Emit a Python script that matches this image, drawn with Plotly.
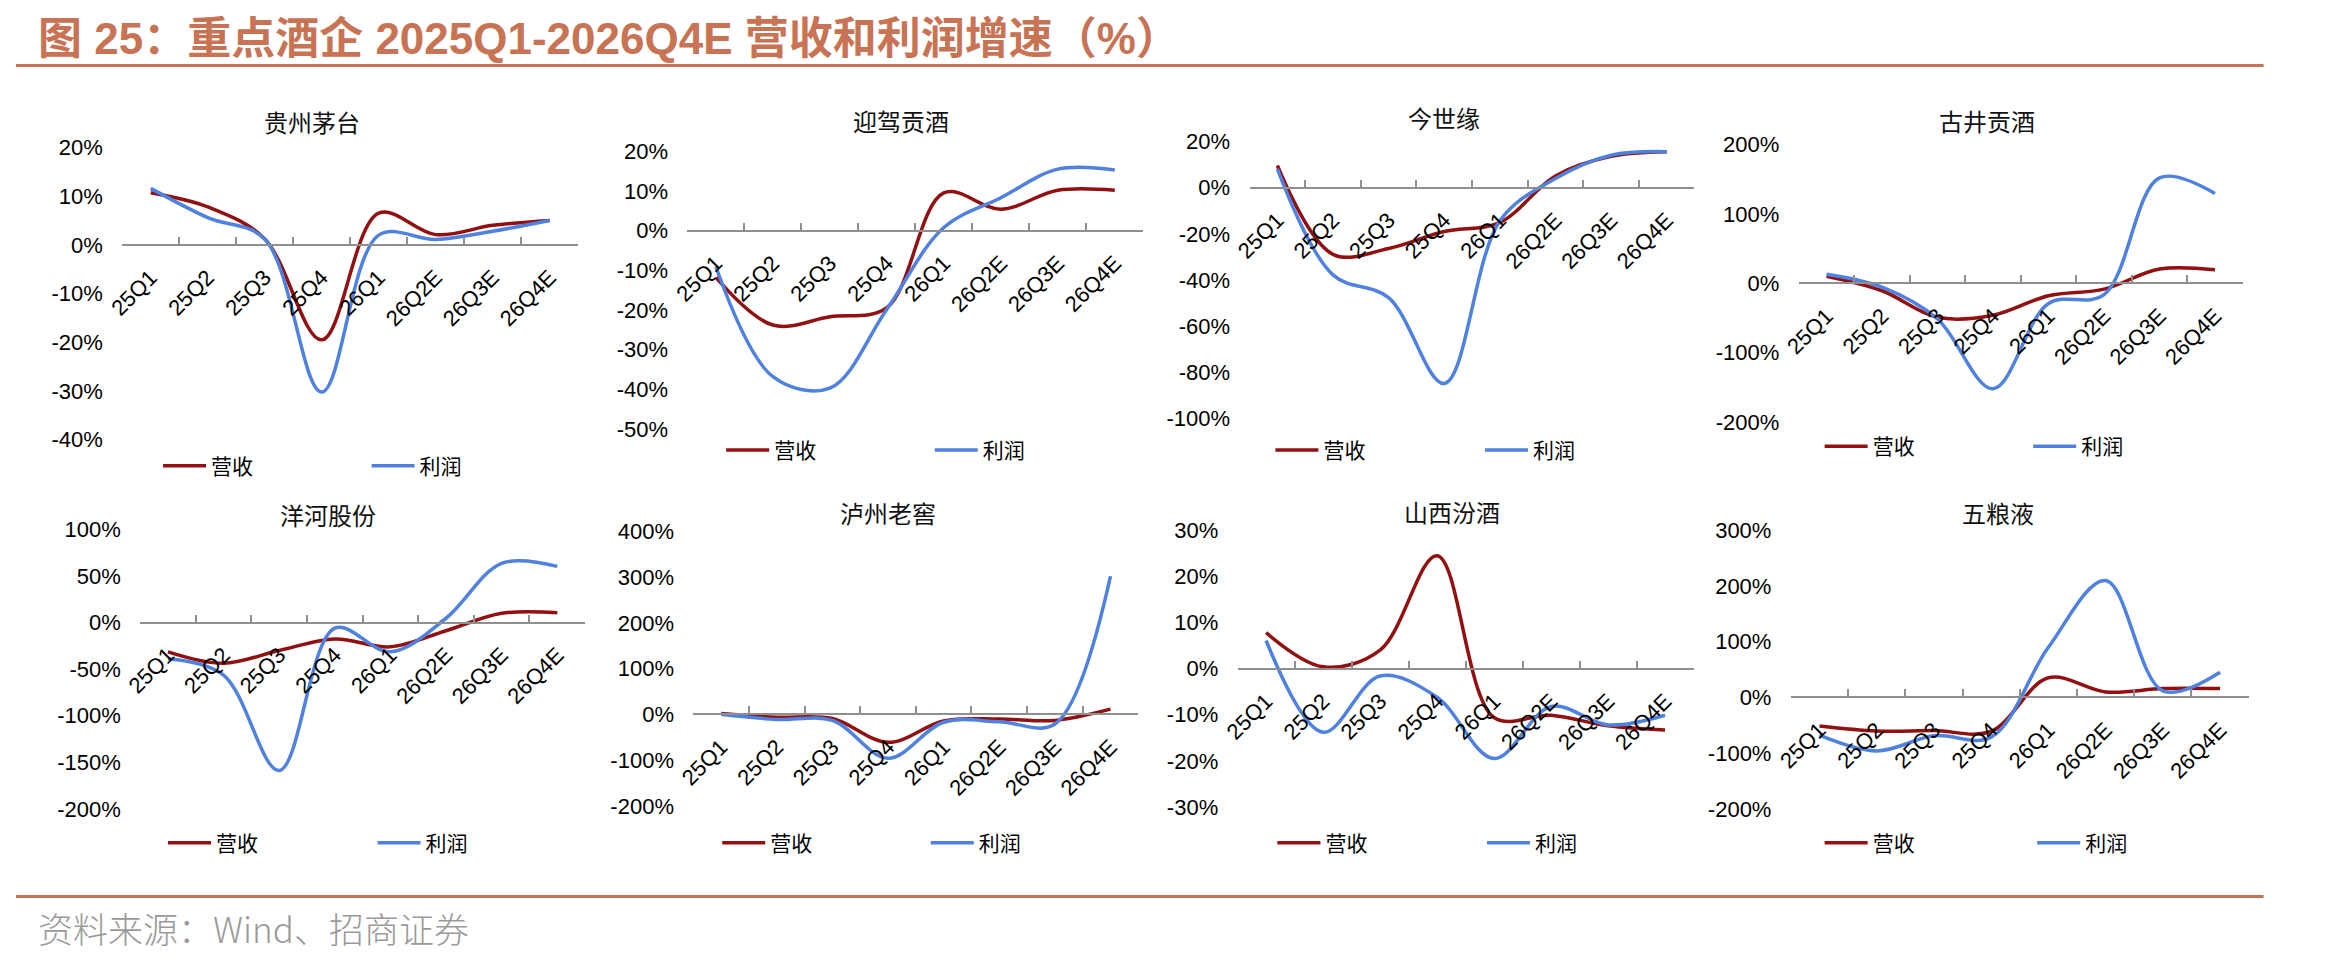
import plotly.graph_objects as go

# ---------------- data ----------------
categories = ["25Q1", "25Q2", "25Q3", "25Q4", "26Q1", "26Q2E", "26Q3E", "26Q4E"]
companies = ["贵州茅台", "迎驾贡酒", "今世缘", "古井贡酒", "洋河股份", "泸州老窖", "山西汾酒", "五粮液"]
series_names = ["营收", "利润"]

moutai_revenue = [10.7, 7.8, 1.2, -19.5, 6.5, 2.1, 4.0, 5.0]
moutai_profit = [11.6, 5.6, 1.2, -30.2, 2.0, 1.1, 2.8, 5.0]
yingjia_revenue = [-11.8, -23.8, -21.7, -19.4, 9.5, 5.4, 10.2, 10.2]
yingjia_profit = [-9.1, -36.8, -39.7, -19.8, 0.8, 8.3, 15.5, 15.3]
jinshiyuan_revenue = [9.6, -28.9, -26.4, -19.0, -15.1, 5.1, 13.6, 15.6]
jinshiyuan_profit = [8.2, -37.8, -47.7, -84.9, -14.4, 4.0, 14.1, 15.6]
gujing_revenue = [10.3, -10.7, -49.0, -46.0, -17.8, -8.4, 20.6, 19.6]
gujing_profit = [13.1, -5.6, -51.4, -151.9, -29.0, -16.4, 151.9, 129.4]
yanghe_revenue = [-31.4, -43.7, -30.0, -17.6, -26.1, -8.8, 9.9, 10.6]
yanghe_profit = [-38.8, -56.4, -158.7, -6.0, -31.4, 4.6, 63.5, 60.3]
luzhou_revenue = [1.8, -6.0, -9.0, -61.0, -14.4, -10.0, -13.0, 11.5]
luzhou_profit = [0.4, -11.0, -13.0, -95.7, -17.0, -15.8, -20.9, 302.0]
fenjiu_revenue = [7.8, 0.4, 4.0, 24.5, -10.6, -10.1, -12.4, -13.3]
fenjiu_profit = [6.1, -13.8, -1.6, -6.2, -19.5, -8.2, -12.2, -10.1]
wuliangye_revenue = [-51.0, -60.0, -59.4, -60.6, 35.3, 10.0, 15.9, 15.9]
wuliangye_profit = [-67.6, -95.9, -68.8, -71.2, 90.0, 210.0, 11.8, 45.3]

moutai_yticks = [-40, -30, -20, -10, 0, 10, 20]
yingjia_yticks = [-50, -40, -30, -20, -10, 0, 10, 20]
jinshiyuan_yticks = [-100, -80, -60, -40, -20, 0, 20]
gujing_yticks = [-200, -100, 0, 100, 200]
yanghe_yticks = [-200, -150, -100, -50, 0, 50, 100]
luzhou_yticks = [-200, -100, 0, 100, 200, 300, 400]
fenjiu_yticks = [-30, -20, -10, 0, 10, 20, 30]
wuliangye_yticks = [-200, -100, 0, 100, 200, 300]

title_text = "图 25：重点酒企 2025Q1-2026Q4E 营收和利润增速（%）"
source_text = "资料来源：Wind、招商证券"

# ---------------- style / layout ----------------
W, H = 2350, 971
RED = "#921010"
BLUE = "#4F82E0"
AX = "#8f8f8f"
ACCENT = "#C87354"
FONT = "Liberation Sans, Arial, Noto Sans CJK SC, sans-serif"
CJK = "Noto Sans CJK SC, sans-serif"

revenues = [moutai_revenue, yingjia_revenue, jinshiyuan_revenue, gujing_revenue,
            yanghe_revenue, luzhou_revenue, fenjiu_revenue, wuliangye_revenue]
profits = [moutai_profit, yingjia_profit, jinshiyuan_profit, gujing_profit,
           yanghe_profit, luzhou_profit, fenjiu_profit, wuliangye_profit]
yticks = [moutai_yticks, yingjia_yticks, jinshiyuan_yticks, gujing_yticks,
          yanghe_yticks, luzhou_yticks, fenjiu_yticks, wuliangye_yticks]

# plot boxes in pixels: x0, x1, ytop, ybottom
boxes = [(107, 566, 139, 439), (676, 1135, 143, 428), (1242, 1690, 133, 417), (1795, 2242, 136, 421),
         (125, 573, 531, 818), (682, 1130, 533, 815), (1230, 1689, 532, 816), (1787, 2248, 532, 818)]
title_pos = [(298, 112), (891, 111), (1438, 108), (1985, 111),
             (314, 516), (878, 514), (1446, 513), (1996, 514)]
legend_pos = [(147, 357, 466), (714, 924, 450), (1267, 1478, 450), (1820, 2030, 446),
              (152, 363, 853), (710, 920, 853), (1269, 1480, 853), (1820, 2034, 853)]

fig = go.Figure()
layout = dict(width=W, height=H, margin=dict(l=0, r=0, t=0, b=0), autosize=False,
              paper_bgcolor="white", plot_bgcolor="white", font=dict(family=FONT, color="#000"))
annotations = []
legend_idx = 0

for i in range(8):
    n = i + 1
    xa = "x" if n == 1 else f"x{n}"
    ya = "y" if n == 1 else f"y{n}"
    x0, x1, yt, yb = boxes[i]
    dom_x = [x0 / W, x1 / W]
    dom_y = [1 - yb / H, 1 - yt / H]
    tv = yticks[i]
    ymin, ymax = tv[0], tv[-1]
    pos = dom_y[0] + (0 - ymin) / (ymax - ymin) * (dom_y[1] - dom_y[0])

    for s, (vals, col) in enumerate([(revenues[i], RED), (profits[i], BLUE)]):
        legend_idx += 1
        lname = "legend" if legend_idx == 1 else f"legend{legend_idx}"
        fig.add_trace(go.Scatter(
            x=categories, y=vals, mode="lines", name=series_names[s],
            line=dict(color=col, width=3.5, shape="spline", smoothing=1.0),
            xaxis=xa, yaxis=ya, legend=lname, showlegend=True, hoverinfo="skip"))
        lx = legend_pos[i][s]
        ly = legend_pos[i][2]
        layout[lname] = dict(x=(lx - 4) / W, y=1 - ly / H, xanchor="left", yanchor="middle",
                             orientation="h", bgcolor="rgba(0,0,0,0)", borderwidth=0,
                             itemwidth=43, font=dict(family=CJK, size=21, color="#000"))

    layout["xaxis" if n == 1 else f"xaxis{n}"] = dict(
        domain=dom_x, anchor="free", position=pos, type="category",
        categoryorder="array", categoryarray=categories, range=[-0.5, 7.5],
        tickson="boundaries", ticks="inside", ticklen=7, tickwidth=2, tickcolor=AX,
        showline=True, linecolor=AX, linewidth=2, showgrid=False, zeroline=False,
        tickangle=-45, ticklabelstandoff=10,
        tickfont=dict(family=FONT, size=22, color="#000"))
    layout["yaxis" if n == 1 else f"yaxis{n}"] = dict(
        domain=dom_y, anchor=xa, range=[ymin, ymax], tickvals=tv,
        ticktext=[f"{v}%" for v in tv], showgrid=False, zeroline=False, showline=False,
        ticks="outside", ticklen=14, tickcolor="rgba(0,0,0,0)",
        tickfont=dict(family=FONT, size=22, color="#000"))

    tx, ty = title_pos[i]
    annotations.append(dict(x=tx / W, y=1 - ty / H, xref="paper", yref="paper", showarrow=False,
                            text=companies[i], xanchor="center", yanchor="middle",
                            font=dict(family=CJK, size=24, color="#111")))

annotations.append(dict(x=20 / W, y=1 - 27 / H, xref="paper", yref="paper", showarrow=False,
                        text=f"<b>{title_text}</b>", xanchor="left", yanchor="middle",
                        font=dict(family="Liberation Sans, Arial, Noto Sans CJK SC", size=44, color=ACCENT)))
annotations.append(dict(x=20 / W, y=1 - 940 / H, xref="paper", yref="paper", showarrow=False,
                        text=source_text, xanchor="left", yanchor="middle",
                        font=dict(family=CJK, size=35, color="#9a9a9a", weight=300)))
layout["annotations"] = annotations
layout["shapes"] = [
    dict(type="line", xref="paper", yref="paper", x0=0, x1=2263 / W, y0=1 - 55 / H, y1=1 - 55 / H,
         line=dict(color=ACCENT, width=3)),
    dict(type="line", xref="paper", yref="paper", x0=0, x1=2263 / W, y0=1 - 908 / H, y1=1 - 908 / H,
         line=dict(color=ACCENT, width=3)),
]
fig.update_layout(**layout)
fig.write_html("out.html")
